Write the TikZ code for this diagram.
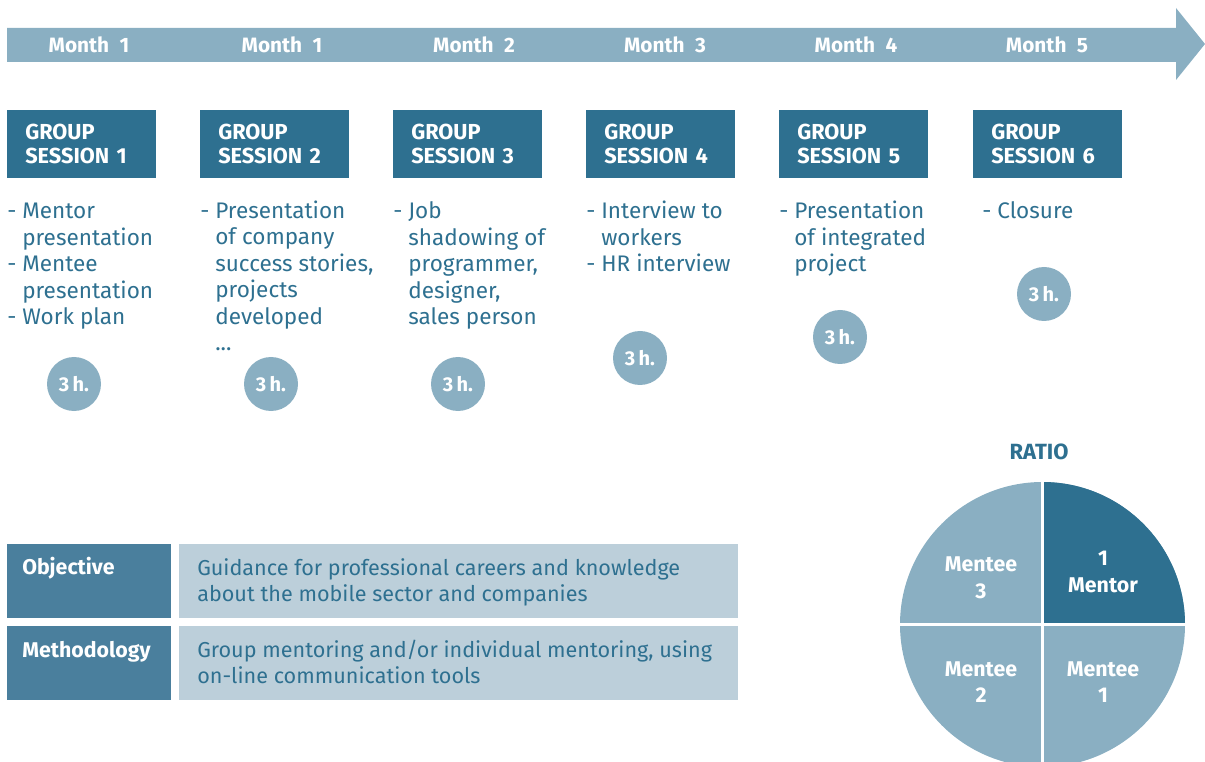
\documentclass[tikz,border=0pt]{standalone}
\usepackage{fontspec}
\setmainfont{Fira Sans}
\definecolor{bandblue}{HTML}{8AAFC2}
\definecolor{deepblue}{HTML}{2E7090}
\definecolor{midblue}{HTML}{4A7F9D}
\definecolor{paleblue}{HTML}{BCCFDA}
\tikzset{
	monthstyle/.style={text=white,anchor=base,inner sep=0pt,font=\bfseries\fontsize{15.6}{18}\selectfont},
	sessionstyle/.style={rectangle,fill=deepblue,text=white,anchor=north west,minimum height=51pt,text width=84.75pt,inner xsep=13.5pt,inner ysep=0pt,align=left,font=\bfseries\fontsize{16.3}{18}\selectfont},
	liststyle/.style={text=deepblue,anchor=base west,inner sep=0pt,align=left,font=\fontsize{16.9}{19.9}\selectfont},
	hourstyle/.style={circle,fill=bandblue,text=white,minimum size=40.5pt,inner sep=0pt,font=\bfseries\fontsize{15}{16}\selectfont},
	labelstyle/.style={text=white,anchor=base west,inner sep=0pt,font=\bfseries\fontsize{16}{18}\selectfont},
	infostyle/.style={text=deepblue,anchor=base west,inner sep=0pt,align=left,font=\fontsize{16.2}{19.5}\selectfont},
	piestyle/.style={text=white,align=center,inner sep=0pt,font=\bfseries\fontsize{16}{20}\selectfont}
}
\newcommand{\ind}{\hphantom{- }}

\begin{document}
\begin{tikzpicture}[x=0.75pt,y=-0.75pt]
		\useasboundingbox (0,0) rectangle (1205,762);
		\clip (0,0) rectangle (1205,762);
		% timeline
		\fill[bandblue] (7,28) -- (1176,28) -- (1176,8) -- (1205,44) -- (1176,80) -- (1176,62) -- (7,62) -- cycle;
		\node[monthstyle] (m1) at (89,53) {Month\enspace 1};
		\node[monthstyle] (m2) at (282,53) {Month\enspace 1};
		\node[monthstyle] (m3) at (474,53) {Month\enspace 2};
		\node[monthstyle] (m4) at (665,53) {Month\enspace 3};
		\node[monthstyle] (m5) at (856,53) {Month\enspace 4};
		\node[monthstyle] (m6) at (1047,53) {Month\enspace 5};
		% sessions
		\node[sessionstyle] (s1) at (7,110) {GROUP\\SESSION 1};
		\node[sessionstyle] (s2) at (200,110) {GROUP\\SESSION 2};
		\node[sessionstyle] (s3) at (393,110) {GROUP\\SESSION 3};
		\node[sessionstyle] (s4) at (586,110) {GROUP\\SESSION 4};
		\node[sessionstyle] (s5) at (779,110) {GROUP\\SESSION 5};
		\node[sessionstyle] (s6) at (973,110) {GROUP\\SESSION 6};
		% contents (placed by the baseline of the last line)
		\node[liststyle] (l1) at (7,325) {- Mentor\\\ind presentation\\- Mentee\\\ind presentation\\- Work plan};
		\node[liststyle] (l2) at (200,351) {- Presentation\\\ind of company\\\ind success stories,\\\ind projects\\\ind developed\\\ind ...};
		\node[liststyle] (l3) at (393,325) {- Job\\\ind shadowing of\\\ind programmer,\\\ind designer,\\\ind sales person};
		\node[liststyle] (l4) at (586,272) {- Interview to\\\ind workers\\- HR interview};
		\node[liststyle] (l5) at (779,272) {- Presentation\\\ind of integrated\\\ind project};
		\node[liststyle] (l6) at (982,219) {- Closure};
		% hours
		\node[hourstyle] (h1) at (74,384) {3\,h.};
		\node[hourstyle] (h2) at (271,384) {3\,h.};
		\node[hourstyle] (h3) at (458,384) {3\,h.};
		\node[hourstyle] (h4) at (640,358) {3\,h.};
		\node[hourstyle] (h5) at (840,337) {3\,h.};
		\node[hourstyle] (h6) at (1044,294) {3\,h.};
		% table
		\fill[midblue] (7,544) rectangle (171,618);
		\fill[paleblue] (179,544) rectangle (738,618);
		\fill[midblue] (7,626) rectangle (171,700);
		\fill[paleblue] (179,626) rectangle (738,700);
		\node[labelstyle] (obj) at (22,574) {Objective};
		\node[infostyle] (objtext) at (197,601) {Guidance for professional careers and knowledge\\about the mobile sector and companies};
		\node[labelstyle] (meth) at (22,657) {Methodology};
		\node[infostyle] (methtext) at (197,683) {Group mentoring and/or individual mentoring, using\\on-line communication tools};
		% ratio
		\node[text=deepblue,anchor=base,inner sep=0pt,font=\bfseries\fontsize{16.5}{18}\selectfont] (ratio) at (1039,459) {RATIO};
		\begin{scope}[shift={(1042.5,624.5)},y=0.75pt]
		\fill[bandblue] (0,0) circle[radius=106.875pt];
		\fill[deepblue] (0,0) -- (0,142.5) arc[start angle=90,end angle=0,radius=106.875pt] -- cycle;
		\draw[white,line width=2.25pt] (-145,0) -- (145,0);
		\draw[white,line width=2.25pt] (0,-145) -- (0,145);
		\end{scope}
		\node[piestyle] (p3) at (981,578) {Mentee\\3};
		\node[piestyle] (p0) at (1103,572) {1\\Mentor};
		\node[piestyle] (p2) at (981,682) {Mentee\\2};
		\node[piestyle] (p1) at (1103,682) {Mentee\\1};
		\end{tikzpicture}
\end{document}
